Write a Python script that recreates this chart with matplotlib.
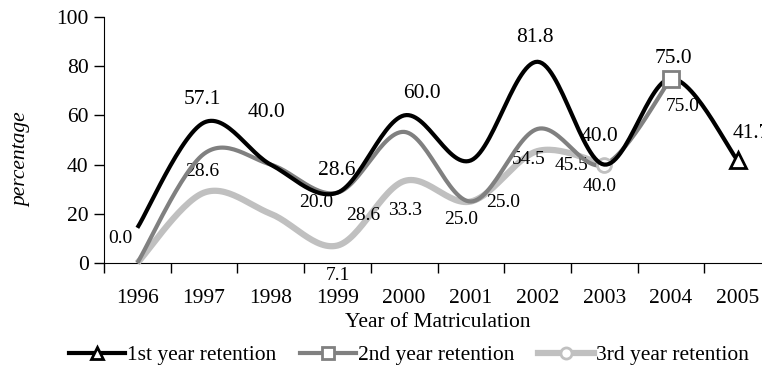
import matplotlib
matplotlib.use("Agg")
import matplotlib.pyplot as plt
from matplotlib.lines import Line2D
import numpy as np

plt.rcParams['font.family'] = ['Liberation Serif', 'DejaVu Serif']

years = ['1996', '1997', '1998', '1999', '2000', '2001', '2002', '2003', '2004', '2005']
first_year = [14.3, 57.1, 40.0, 28.6, 60.0, 41.7, 81.8, 40.0, 75.0, 41.7]
second_year = [0.0, 44.4, 40.0, 28.6, 53.3, 25.0, 54.5, 40.0, 75.0]
third_year = [0.0, 28.6, 20.0, 7.1, 33.3, 25.0, 45.5, 40.0]
series_names = ['1st year retention', '2nd year retention', '3rd year retention']

# data labels as they sit in the original chart: (text, x position, y position)
big_labels = [('57.1', 0.98, 66.3), ('40.0', 1.93, 61.0), ('28.6', 2.99, 37.8),
              ('60.0', 4.27, 69.1), ('81.8', 5.96, 91.5), ('40.0', 6.93, 51.6),
              ('75.0', 8.03, 83.3), ('41.7', 9.21, 52.8)]
small_labels = [('0.0', -0.25, 9.8), ('28.6', 0.97, 37.0), ('20.0', 2.68, 24.4),
                ('28.6', 3.38, 19.5), ('7.1', 3.01, -4.9), ('33.3', 4.01, 21.5),
                ('25.0', 4.85, 17.5), ('25.0', 5.49, 24.4), ('54.5', 5.87, 41.9),
                ('45.5', 6.51, 39.8), ('40.0', 6.93, 31.3), ('75.0', 8.18, 63.8)]


def smooth(y, n=30):
    # excel style smoothed line (catmull-rom bezier)
    y = np.asarray(y, dtype=float)
    x = np.arange(len(y), dtype=float)
    px = np.concatenate([[x[0]], x, [x[-1]]])
    py = np.concatenate([[y[0]], y, [y[-1]]])
    xs, ys = [], []
    t = np.linspace(0, 1, n)
    for i in range(1, len(px) - 2):
        p0 = np.array([px[i], py[i]])
        p3 = np.array([px[i + 1], py[i + 1]])
        p1 = p0 + (np.array([px[i + 1], py[i + 1]]) - np.array([px[i - 1], py[i - 1]])) / 6
        p2 = p3 - (np.array([px[i + 2], py[i + 2]]) - np.array([px[i], py[i]])) / 6
        b = ((1 - t) ** 3)[:, None] * p0 + (3 * (1 - t) ** 2 * t)[:, None] * p1 \
            + (3 * (1 - t) * t ** 2)[:, None] * p2 + (t ** 3)[:, None] * p3
        xs.append(b[:, 0])
        ys.append(b[:, 1])
    return np.concatenate(xs), np.concatenate(ys)


fig = plt.figure(figsize=(7.62, 3.66), dpi=100)
ax = fig.add_axes([104 / 762, 103 / 366, 667 / 762, 246 / 366])

styles = [
    dict(color='black', lw=3.0, marker='^', ms=11, zorder=5),
    dict(color='#808080', lw=3.0, marker='s', ms=11, zorder=4),
    dict(color='#c0c0c0', lw=4.5, marker='o', ms=10, zorder=3),
]
handles = []
for vals, st, name in zip([first_year, second_year, third_year], styles, series_names):
    sx, sy = smooth(vals)
    ax.plot(sx, sy, color=st['color'], lw=st['lw'], solid_capstyle='butt',
            zorder=st['zorder'], clip_on=False)
    ax.plot([len(vals) - 1], [vals[-1]], marker=st['marker'], ms=st['ms'],
            mfc='white', mec=st['color'], mew=2, ls='none', zorder=st['zorder'] + 1,
            clip_on=False)
    handles.append(Line2D([], [], color=st['color'], lw=st['lw'], marker=st['marker'],
                          ms=st['ms'] - 2, mfc='white', mec=st['color'], mew=2))

for txt, x, y in big_labels:
    ax.text(x, y, txt, ha='center', va='center', fontsize=15.5, clip_on=False)
for txt, x, y in small_labels:
    ax.text(x, y, txt, ha='center', va='center', fontsize=14, clip_on=False)

ax.set_xlim(-0.5, len(years) - 0.5)
ax.set_ylim(0, 100)
ax.set_yticks([0, 20, 40, 60, 80, 100])
ax.set_xticks(np.arange(len(years)) - 0.5, minor=False)
ax.set_xticklabels([])
ax.set_xticks(np.arange(len(years)), minor=True)
ax.set_xticklabels(years, minor=True)
ax.tick_params(axis='x', which='minor', length=0, labelsize=15.5, pad=19)
ax.tick_params(axis='x', which='major', length=7, width=1)
ax.tick_params(axis='y', length=7, width=1, labelsize=15.5, pad=4)
ax.spines['top'].set_visible(False)
ax.spines['right'].set_visible(False)

ax.set_xlabel('Year of Matriculation', fontsize=15.5, labelpad=3)
fig.text(22 / 762, 1 - 160 / 366, 'percentage', rotation=90, style='italic',
         fontsize=15.5, ha='center', va='center')

fig.legend(handles, series_names, loc='center', bbox_to_anchor=(409 / 762, 1 - 355 / 366),
           ncol=3, frameon=False, fontsize=15.5, handlelength=2.6, handletextpad=0.1,
           columnspacing=1.1, borderpad=0)

fig.savefig('out.png', dpi=100)
